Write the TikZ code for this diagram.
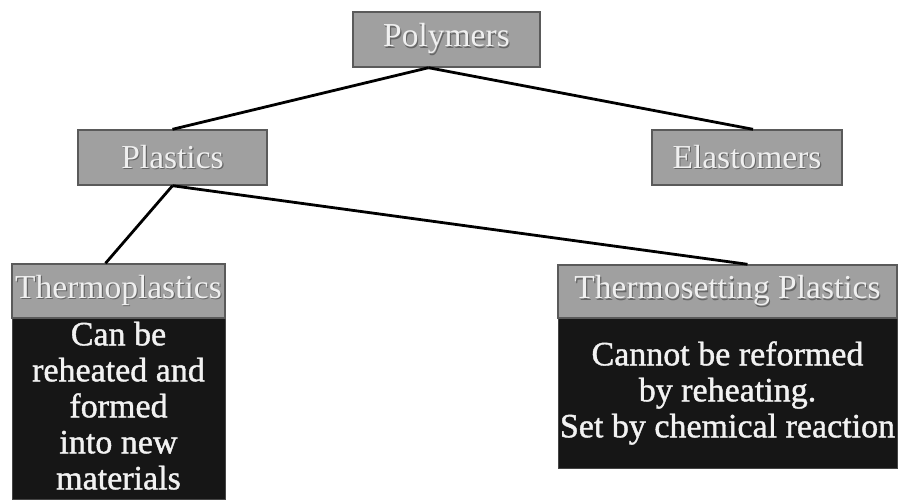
\documentclass[tikz,border=0pt]{standalone}
\usepackage{fontspec}
\setmainfont{Liberation Serif}
\newfontfamily\bodyfont[FakeBold=1.2]{Liberation Serif}
\usetikzlibrary{calc}
\definecolor{hdrgray}{HTML}{A0A0A0}
\definecolor{hdrline}{HTML}{5A5A5A}
\definecolor{bodyblack}{HTML}{161616}
\definecolor{bodytext}{HTML}{F2F2F2}
\newcommand\embtext[1]{\leavevmode\rlap{\hspace{1.1pt}\raisebox{-1.1pt}{\textcolor{black!60}{#1}}}\textcolor{white!94!black}{#1}}
\begin{document}
\begin{tikzpicture}[x=1pt,y=-1pt,
  hdr/.style={draw=hdrline, line width=1.4pt, fill=hdrgray, minimum height=55pt, inner sep=0pt, font=\fontsize{33.5}{36}\selectfont},
  bodybox/.style={draw=bodyblack!80, fill=bodyblack, text=bodytext, inner sep=0pt, align=center, font=\bodyfont\fontsize{34}{36}\selectfont},
  link/.style={line width=2.8pt, black}]
\useasboundingbox (0,0) rectangle (900,499);
\fill[white] (0,0) rectangle (900,499);
% bodies
\node[bodybox, minimum width=213pt, minimum height=181pt] (tpbody) at (118.5,408.5) {Can be\\reheated and\\formed\\into new\\materials\rule[-6pt]{0pt}{6pt}};
\node[bodybox, minimum width=339pt, minimum height=150pt] (tsbody) at (727.5,393) {Cannot be reformed\\by reheating.\\Set by chemical reaction};
% headers
\node[hdr, minimum width=187pt] (poly) at (446.5,39.5) {\embtext{Polymers}};
\node[hdr, minimum width=189pt] (plas) at (172.5,157.5) {\embtext{Plastics}};
\node[hdr, minimum width=190pt] (elas) at (747,157.5) {\embtext{Elastomers}};
\node[hdr, minimum width=213pt, minimum height=54pt] (tphead) at (118.5,291) {\embtext{Thermoplastics}};
\node[hdr, minimum width=339pt, minimum height=53pt] (tshead) at (727.5,291.5) {\embtext{Thermosetting Plastics}};
% connectors
\draw[link] ($(poly.south)+(-18,0)$) -- (plas.north);
\draw[link] ($(poly.south)+(-18,0)$) -- ($(elas.north)+(6,0)$);
\draw[link] (plas.south) -- ($(tphead.north)+(-13,0)$);
\draw[link] (plas.south) -- ($(tshead.north)+(20,0)$);
\end{tikzpicture}
\end{document}
